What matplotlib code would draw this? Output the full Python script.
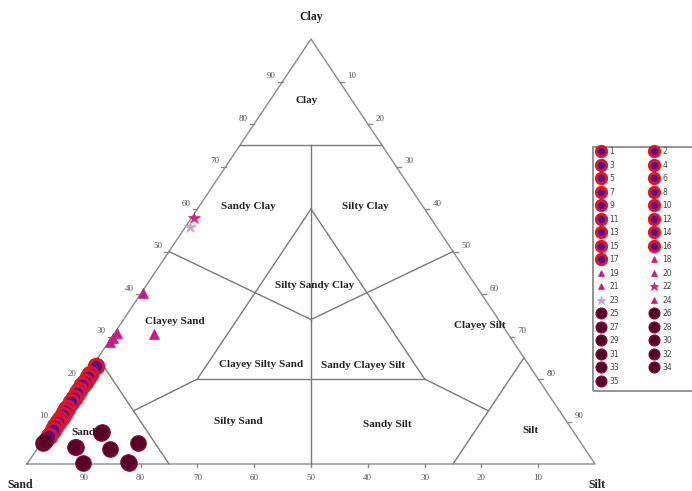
import numpy as np
import matplotlib.pyplot as plt
from matplotlib.patches import Rectangle

# Sample compositions (percent sand / silt / clay)
sample_ids = list(range(1, 36))

sand = [76.4, 78.3, 79.1, 80.2, 81.0, 82.1, 82.9, 84.0, 84.9, 86.3, 87.1, 88.0,
        88.9, 89.7, 90.6, 91.5, 92.9,
        59.4, 62.3, 68.8, 70.0, 41.7, 43.4, 70.9,
        83.0, 89.3, 83.6, 78.0, 90.0, 81.9, 94.7, 94.0, 83.2, 89.6, 82.0]
silt = [0.6, 0.5, 0.5, 0.5, 0.5, 0.5, 0.5, 0.5, 0.5, 0.5, 0.5, 0.5,
        0.5, 0.5, 0.5, 0.5, 0.5,
        0.4, 7.1, 0.4, 0.4, 0.5, 0.8, 0.3,
        9.4, 6.7, 12.9, 17.0, 9.8, 17.8, 0.4, 0.5, 9.4, 6.5, 17.6]
clay = [23.0, 21.2, 20.4, 19.3, 18.5, 17.4, 16.6, 15.5, 14.6, 13.2, 12.4, 11.5,
        10.6, 9.8, 8.9, 8.0, 6.6,
        40.2, 30.6, 30.8, 29.6, 57.8, 55.8, 28.8,
        7.6, 4.0, 3.5, 5.0, 0.2, 0.3, 4.9, 5.5, 7.4, 3.9, 0.4]

tick_values = [10, 20, 30, 40, 50, 60, 70, 80, 90]

# Shepard classification boundaries, each segment as two (sand, silt, clay) points
boundaries = [
    ((25, 0, 75), (0, 25, 75)),
    ((12.5, 12.5, 75), (33, 33, 34)),
    ((50, 0, 50), (33, 33, 34)),
    ((0, 50, 50), (33, 33, 34)),
    ((33, 33, 34), (50, 50, 0)),
    ((20, 20, 60), (60, 20, 20)),
    ((20, 20, 60), (20, 60, 20)),
    ((60, 20, 20), (20, 60, 20)),
    ((75, 0, 25), (75, 25, 0)),
    ((0, 75, 25), (25, 75, 0)),
    ((75, 12.5, 12.5), (60, 20, 20)),
    ((12.5, 75, 12.5), (20, 60, 20)),
]

# class name and the (sand, silt, clay) point where it is written
region_labels = [
    ("Clay", 7.9, 6.5, 85.6), ("Sandy Clay", 30.7, 8.6, 60.7),
    ("Silty Clay", 10.1, 29.2, 60.7), ("Silty Sandy Clay", 28.4, 29.7, 41.9),
    ("Clayey Sand", 57.1, 9.3, 33.6), ("Clayey Silt", 4.0, 63.5, 32.5),
    ("Clayey Silty Sand", 47.2, 29.5, 23.3), ("Sandy Clayey Silt", 29.2, 47.7, 23.1),
    ("Silty Sand", 57.8, 32.1, 10.1), ("Sandy Silt", 31.9, 58.7, 9.4),
    ("Silt", 7.4, 84.8, 7.8), ("Sand", 86.3, 6.2, 7.5),
]


def tern_xy(sa, si, cl):
    sa, si, cl = np.asarray(sa, float), np.asarray(si, float), np.asarray(cl, float)
    return si + cl / 2.0, cl


def sample_style(i):
    if i <= 17:
        return dict(marker='o', ms=10.5, mfc='#4e1490', mec='#e2142c', mew=2.2)
    if i in (22, 23):
        c = '#d2238a' if i == 22 else '#c9a3c4'
        return dict(marker='*', ms=9, mfc=c, mec=c, mew=0.5)
    if i <= 24:
        return dict(marker='^', ms=7, mfc='#cc1a80', mec='#cc1a80', mew=0.5)
    return dict(marker='o', ms=11, mfc='#5a0027', mec='#7a0a38', mew=1.0)


fig = plt.figure(figsize=(6.92, 4.91), dpi=100)
ax = fig.add_axes([0, 0, 1, 1])
ax.set_xlim(-27 / 5.68, 665 / 5.68)
ax.set_ylim(-27 / 4.25, 464 / 4.25)
ax.axis('off')

serif = ['Liberation Serif', 'DejaVu Serif']
line_kw = dict(color='#8a8a8a', lw=1.0, zorder=1)
lab_kw = dict(ha='center', va='center', fontweight='bold', family=serif,
              color='#222222', zorder=4)

# outer triangle
ox, oy = tern_xy([100, 0, 0, 100], [0, 100, 0, 0], [0, 0, 100, 0])
ax.plot(ox, oy, **line_kw)

for a, b in boundaries:
    bx, by = tern_xy(*zip(a, b))
    ax.plot(bx, by, color='#7a7a7a', lw=1.0, zorder=1)

# ticks and tick labels on the three edges
for v in tick_values:
    lx, ly = tern_xy(100 - v, 0, v)
    ax.plot([lx, lx - 0.8], [ly, ly], **line_kw)
    ax.text(lx - 2.0, ly + 1.2, str(v), ha='center', va='center', fontsize=6.5,
            color='#555555', family=serif)
    rx, ry = tern_xy(0, v, 100 - v)
    ax.plot([rx, rx + 0.8], [ry, ry], **line_kw)
    ax.text(rx + 2.2, ry + 1.2, str(v), ha='center', va='center', fontsize=6.5,
            color='#555555', family=serif)
    bx, by = tern_xy(v, 100 - v, 0)
    ax.plot([bx, bx], [by, by - 0.8], **line_kw)
    ax.text(bx, by - 3.3, str(v), ha='center', va='center', fontsize=6.5,
            color='#555555', family=serif)

for name, sa, si, cl in region_labels:
    tx, ty = tern_xy(sa, si, cl)
    ax.text(tx, ty, name, fontsize=8, **lab_kw)

ax.text(50, 105.2, "Clay", fontsize=8.5, **lab_kw)
ax.text(-1.2, -4.9, "Sand", fontsize=8.5, **lab_kw)
ax.text(100.3, -4.9, "Silt", fontsize=8.5, **lab_kw)

px, py = tern_xy(sand, silt, clay)
handles = {}
for k, i in enumerate(sample_ids):
    h, = ax.plot([px[k]], [py[k]], ls='none', label=str(i), zorder=3,
                 **sample_style(i))
    handles[i] = h

# row-wise ordering in a two-column legend
order = [i for i in sample_ids if i % 2 == 1] + [i for i in sample_ids if i % 2 == 0]
leg = fig.legend([handles[i] for i in order], [str(i) for i in order],
                 loc='upper left', bbox_to_anchor=(597 / 692, 1 - 147 / 491),
                 ncol=2, fontsize=5.5, markerscale=0.7, labelspacing=0.59,
                 handlelength=1.0, handletextpad=0.6, columnspacing=4.1,
                 borderpad=0, borderaxespad=0, frameon=False)
for t in leg.get_texts():
    t.set_color('#444444')

# legend box runs off the right edge
fig.patches.append(Rectangle((593 / 692, 1 - 391 / 491), 120 / 692, 244 / 491,
                             transform=fig.transFigure, fill=False,
                             edgecolor='#8a8a8a', lw=1.3, zorder=0))

fig.savefig('out.png', dpi=100)
